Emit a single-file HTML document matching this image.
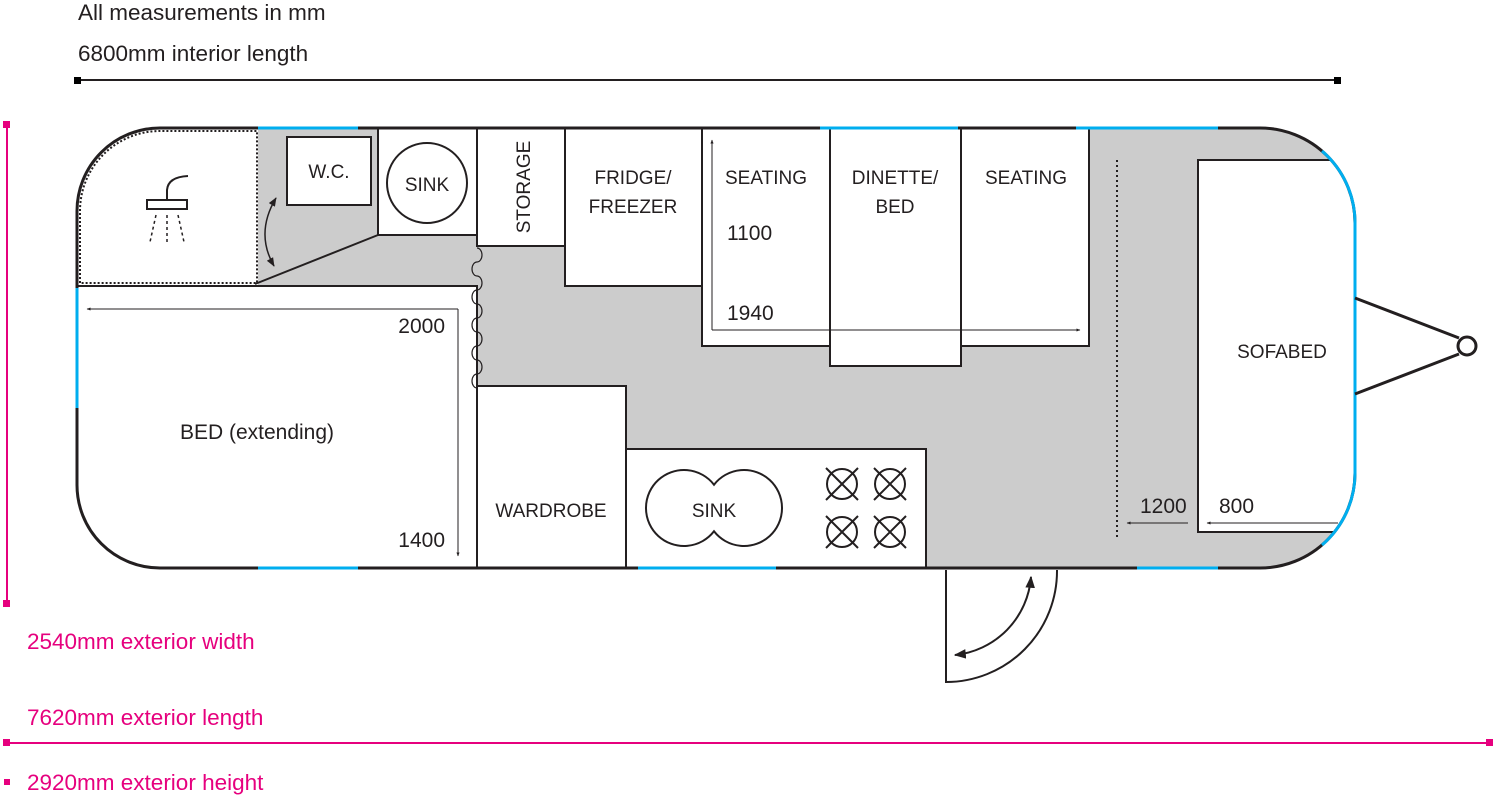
<!DOCTYPE html>
<html><head><meta charset="utf-8"><style>
html,body{margin:0;padding:0;background:#fff;width:1496px;height:796px;overflow:hidden}
svg text{font-family:"Liberation Sans",sans-serif;font-size:19px;fill:#231f20}
svg text.n{font-size:21px}
svg text.big{font-size:22.5px}
</style></head><body>
<svg width="1496" height="796" viewBox="0 0 1496 796" xmlns="http://www.w3.org/2000/svg">
<defs>
<clipPath id="body"><path d="M160,128 H1260 A95,95 0 0 1 1355,223 V473 A95,95 0 0 1 1260,568 H160 A83,83 0 0 1 77,485 V211 A83,83 0 0 1 160,128 Z"/></clipPath>
<marker id="ar" viewBox="0 0 10 10" refX="9" refY="5" markerWidth="6" markerHeight="6" orient="auto-start-reverse"><path d="M0,1 L10,5 L0,9 z" fill="#231f20"/></marker>
<marker id="sa" viewBox="0 0 10 10" refX="9" refY="5" markerWidth="4" markerHeight="4" orient="auto-start-reverse"><path d="M0,1 L10,5 L0,9 z" fill="#231f20"/></marker>
</defs>
<text class="big" x="78" y="20">All measurements in mm</text>
<text class="big" x="78" y="61">6800mm interior length</text>
<line x1="77" y1="80" x2="1338" y2="80" stroke="#231f20" stroke-width="2"/>
<rect x="74" y="77" width="7" height="7" fill="#000"/><rect x="1334" y="77" width="7" height="7" fill="#000"/>

<g clip-path="url(#body)">
<rect x="70" y="120" width="1300" height="460" fill="#cccccc"/>
<path d="M77,285 V128 H258 V285 Z" fill="#fff"/>
<rect x="70" y="286" width="407" height="290" fill="#fff" stroke="#231f20" stroke-width="2"/>
<rect x="1198" y="160" width="180" height="372" fill="#fff" stroke="#231f20" stroke-width="2"/>
</g>
<path d="M80,283 V211 A80,80 0 0 1 160,131 H257 V283 Z" fill="none" stroke="#231f20" stroke-width="2" stroke-dasharray="2,2"/>
<rect x="147" y="200" width="40" height="9" fill="none" stroke="#231f20" stroke-width="2"/>
<path d="M167,200 V190 Q168,177 188,176" fill="none" stroke="#231f20" stroke-width="2"/>
<g stroke="#231f20" stroke-width="1.5" stroke-dasharray="3,3"><line x1="156" y1="215" x2="150" y2="242"/><line x1="167" y1="215" x2="167" y2="242"/><line x1="178" y1="215" x2="184" y2="242"/></g>
<rect x="287" y="137" width="84" height="68" fill="#fff" stroke="#231f20" stroke-width="2"/>
<text x="329" y="178" text-anchor="middle">W.C.</text>
<path d="M276,198 Q255,233 274,266" fill="none" stroke="#231f20" stroke-width="1.5" marker-start="url(#ar)" marker-end="url(#ar)"/>
<rect x="378" y="128" width="99" height="107" fill="#fff" stroke="#231f20" stroke-width="2"/>
<circle cx="427" cy="183" r="40" fill="none" stroke="#231f20" stroke-width="2"/>
<text x="427" y="191" text-anchor="middle">SINK</text>
<line x1="255" y1="284" x2="378" y2="235" stroke="#231f20" stroke-width="2"/>
<rect x="477" y="128" width="88" height="118" fill="#fff" stroke="#231f20" stroke-width="2"/>
<text transform="translate(530,187) rotate(-90)" text-anchor="middle">STORAGE</text>
<rect x="565" y="128" width="137" height="158" fill="#fff" stroke="#231f20" stroke-width="2"/>
<text x="633" y="184" text-anchor="middle">FRIDGE/</text><text x="633" y="213" text-anchor="middle">FREEZER</text>
<rect x="702" y="128" width="128" height="218" fill="#fff" stroke="#231f20" stroke-width="2"/>
<text x="766" y="184" text-anchor="middle">SEATING</text>
<rect x="961" y="128" width="128" height="218" fill="#fff" stroke="#231f20" stroke-width="2"/>
<text x="1026" y="184" text-anchor="middle">SEATING</text>
<rect x="830" y="128" width="131" height="238" fill="#fff" stroke="#231f20" stroke-width="2"/>
<text x="895" y="184" text-anchor="middle">DINETTE/</text><text x="895" y="213" text-anchor="middle">BED</text>
<line x1="712" y1="330" x2="1080" y2="330" stroke="#231f20" stroke-width="1" marker-end="url(#sa)"/>
<line x1="712" y1="330" x2="712" y2="140" stroke="#231f20" stroke-width="1" marker-end="url(#sa)"/>
<text class="n" x="727" y="240">1100</text><text class="n" x="727" y="320">1940</text>
<rect x="477" y="386" width="149" height="182" fill="#fff" stroke="#231f20" stroke-width="2"/>
<text x="551" y="517" text-anchor="middle">WARDROBE</text>
<rect x="626" y="449" width="300" height="119" fill="#fff" stroke="#231f20" stroke-width="2"/>
<path d="M714,484.7 A38,38 0 1 0 714,531.3 A38,38 0 1 0 714,484.7 Z" fill="none" stroke="#231f20" stroke-width="2"/>
<text x="714" y="517" text-anchor="middle">SINK</text>
<g stroke="#231f20" stroke-width="2" fill="none">
<circle cx="842" cy="484" r="15"/><circle cx="890" cy="484" r="15"/><circle cx="842" cy="532" r="15"/><circle cx="890" cy="532" r="15"/>
<path d="M826,468 L858,500 M858,468 L826,500 M874,468 L906,500 M906,468 L874,500 M826,516 L858,548 M858,516 L826,548 M874,516 L906,548 M906,516 L874,548"/>
</g>
<path d="M477,248 a5,7 0 0 1 0,14 a5,7 0 0 0 0,14 a5,7 0 0 1 0,14 a5,7 0 0 0 0,14 M477,290 a5,7 0 0 0 0,14 a5,7 0 0 1 0,14 a5,7 0 0 0 0,14 a5,7 0 0 1 0,14 a5,7 0 0 0 0,14 a5,7 0 0 1 0,14 a5,7 0 0 0 0,14" fill="none" stroke="#231f20" stroke-width="1.2"/>
<line x1="87" y1="309" x2="458" y2="309" stroke="#231f20" stroke-width="1" marker-start="url(#sa)"/>
<line x1="458" y1="309" x2="458" y2="556" stroke="#231f20" stroke-width="1" marker-end="url(#sa)"/>
<text class="n" x="445" y="333" text-anchor="end">2000</text>
<text class="n" x="445" y="547" text-anchor="end">1400</text>
<text class="n" x="257" y="439" text-anchor="middle">BED (extending)</text>
<line x1="1117" y1="160" x2="1117" y2="540" stroke="#231f20" stroke-width="2" stroke-dasharray="2,3"/>
<text x="1282" y="358" text-anchor="middle">SOFABED</text>
<line x1="1188" y1="523" x2="1127" y2="523" stroke="#231f20" stroke-width="1" marker-end="url(#sa)"/>
<line x1="1338" y1="523" x2="1207" y2="523" stroke="#231f20" stroke-width="1" marker-end="url(#sa)"/>
<text class="n" x="1140" y="513">1200</text><text class="n" x="1219" y="513">800</text>
<path d="M160,128 H1260 A95,95 0 0 1 1355,223 V473 A95,95 0 0 1 1260,568 H160 A83,83 0 0 1 77,485 V211 A83,83 0 0 1 160,128 Z" fill="none" stroke="#231f20" stroke-width="3"/>
<g stroke="#00aeef" stroke-width="3" fill="none">
<line x1="258" y1="128" x2="358" y2="128"/><line x1="820" y1="128" x2="958" y2="128"/><line x1="1076" y1="128" x2="1218" y2="128"/>
<line x1="258" y1="568" x2="358" y2="568"/><line x1="638" y1="568" x2="776" y2="568"/><line x1="1137" y1="568" x2="1218" y2="568"/>
<line x1="77" y1="288" x2="77" y2="408"/>
<path d="M1322,151 A95,95 0 0 1 1355,223 V473 A95,95 0 0 1 1322,545"/>
</g>
<path d="M1355,298 L1459,338 M1355,394 L1459,354" stroke="#231f20" stroke-width="3" fill="none"/>
<circle cx="1467" cy="346" r="9" fill="#fff" stroke="#231f20" stroke-width="3"/>
<path d="M946,570 V682 A111,111 0 0 0 1057,570" fill="none" stroke="#231f20" stroke-width="2"/>
<path d="M1031,577 A85,85 0 0 1 955,655" fill="none" stroke="#231f20" stroke-width="2" marker-start="url(#ar)" marker-end="url(#ar)"/>
<g fill="#e6007e">
<rect x="6" y="124" width="2" height="480"/><rect x="3" y="121" width="7" height="7"/><rect x="3" y="600" width="7" height="7"/>
<rect x="6" y="742" width="1484" height="2"/><rect x="3" y="739" width="7" height="7"/><rect x="1486" y="739" width="7" height="7"/>
<rect x="4" y="779" width="6" height="6"/>
</g>
<text class="big" x="27" y="649" style="fill:#e6007e">2540mm exterior width</text>
<text class="big" x="27" y="725" style="fill:#e6007e">7620mm exterior length</text>
<text class="big" x="27" y="790" style="fill:#e6007e">2920mm exterior height</text>
</svg>
</body></html>
